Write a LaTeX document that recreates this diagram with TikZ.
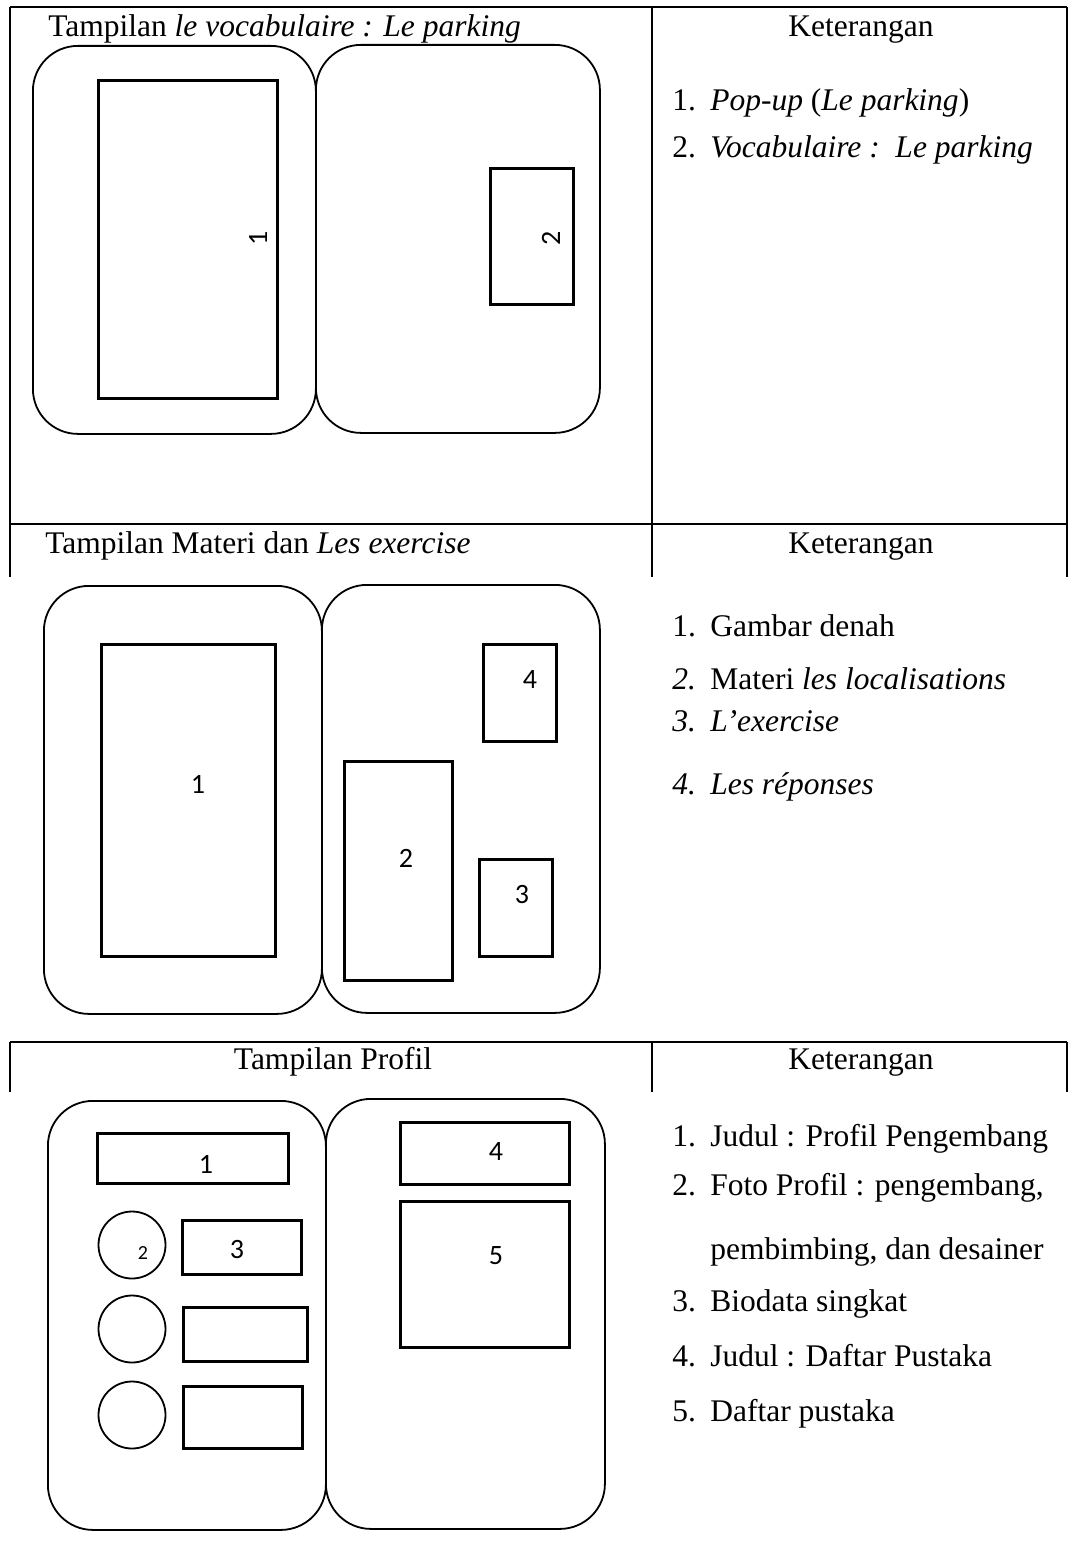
\documentclass[tikz,border=0pt]{standalone}
\usepackage{fontspec}
\setmainfont{Liberation Serif}
\newfontfamily\numfont{Carlito}
\usepackage{tikz}
\usetikzlibrary{positioning}

\newcommand{\itm}[2]{\makebox[38pt][l]{#1}#2}

\begin{document}
\begin{tikzpicture}[x=1pt,y=-1pt,semithick]
\tikzstyle{every node}=[inner sep=0pt]
\tikzstyle{phone}=[draw,line width=1.8pt,rounded corners=45pt,anchor=north west]
\tikzstyle{screen}=[draw,line width=2.8pt,anchor=north west]
\tikzstyle{photo}=[draw,line width=1.8pt,circle,minimum size=67pt]
\tikzstyle{num}=[font=\numfont\fontsize{28}{30}\selectfont]
\tikzstyle{txt}=[font=\fontsize{31.5}{36}\selectfont]
\tikzstyle{item}=[txt,anchor=base west]
\tikzstyle{grid}=[line width=1.2pt]

\useasboundingbox (0,0) rectangle (1074,1546);

% table lines
\coordinate (TL) at (10,7);
\coordinate (TM) at (652,7);
\coordinate (TR) at (1067,7);
\coordinate (ML) at (10,524);
\coordinate (MR) at (1067,524);
\coordinate (EL) at (10,577);
\coordinate (EM) at (652,577);
\coordinate (ER) at (1067,577);
\coordinate (BL) at (10,1042);
\coordinate (BM) at (652,1042);
\coordinate (BR) at (1067,1042);
\coordinate (FL) at (10,1092);
\coordinate (FM) at (652,1092);
\coordinate (FR) at (1067,1092);
\draw[grid] (TL) -- (TR) (ML) -- (MR) (BL) -- (BR);
\draw[grid] (TL) -- (EL) (TM) -- (EM) (TR) -- (ER);
\draw[grid] (BL) -- (FL) (BM) -- (FM) (BR) -- (FR);

% le parking
\node[txt,anchor=base west] (H1) at (48,37) {Tampilan \textit{le vocabulaire : Le parking}};
\node[txt,anchor=base] (K1) at (861,37) {Keterangan};
\node[phone,minimum width=283pt,minimum height=388pt] (P1L) at (32,45) {};
\node[phone,minimum width=284pt,minimum height=388pt] (P1R) at (315,44) {};
\node[screen,minimum width=179pt,minimum height=318pt] (S11) at (97,79) {};
\node[screen,minimum width=83pt,minimum height=136pt] (S12) at (489,167) {};
\node[num,rotate=90] (N11) at (258,238) {1};
\node[num,rotate=90] (N12) at (551,238) {2};
\node[item] (I11) at (672,111) {\itm{1.}{\textit{Pop-up} (\textit{Le parking})}};
\node[item] (I12) at (672,158) {\itm{2.}{\textit{Vocabulaire :\ \ Le parking}}};

% materi
\node[txt,anchor=base west] (H2) at (45,553) {Tampilan Materi dan \textit{Les exercise}};
\node[txt,anchor=base] (K2) at (861,553) {Keterangan};
\node[phone,minimum width=278pt,minimum height=428pt] (P2L) at (43,585) {};
\node[phone,minimum width=278pt,minimum height=428pt] (P2R) at (321,584) {};
\node[screen,minimum width=174pt,minimum height=312pt] (S21) at (100,643) {};
\node[screen,minimum width=108pt,minimum height=219pt] (S22) at (343,760) {};
\node[screen,minimum width=73pt,minimum height=97pt] (S23) at (478,858) {};
\node[screen,minimum width=73pt,minimum height=97pt] (S24) at (482,643) {};
\node[num] (N21) at (198,784) {1};
\node[num] (N22) at (406,858) {2};
\node[num] (N23) at (522,895) {3};
\node[num] (N24) at (530,680) {4};
\node[item] (I21) at (672,636) {\itm{1.}{Gambar denah}};
\node[item] (I22) at (672,689) {\itm{\textit{2.}}{Materi \textit{les localisations}}};
\node[item] (I23) at (672,731) {\itm{\textit{3.}}{\textit{L’exercise}}};
\node[item] (I24) at (672,794) {\itm{\textit{4.}}{\textit{Les réponses}}};

% profil
\node[txt,anchor=base] (H3) at (333,1069) {Tampilan Profil};
\node[txt,anchor=base] (K3) at (861,1069) {Keterangan};
\node[phone,minimum width=278pt,minimum height=429pt] (P3L) at (47,1100) {};
\node[phone,minimum width=279pt,minimum height=430pt] (P3R) at (325,1098) {};
\node[screen,minimum width=191pt,minimum height=50pt] (S31) at (96,1132) {};
\node[photo] (C1) at (132,1245) {};
\node[photo] (C2) at (132,1329) {};
\node[photo] (C3) at (132,1415) {};
\node[screen,minimum width=119pt,minimum height=54pt] (S33) at (181,1219) {};
\node[screen,minimum width=124pt,minimum height=54pt] (S3B) at (182,1306) {};
\node[screen,minimum width=119pt,minimum height=62pt] (S3C) at (182,1385) {};
\node[screen,minimum width=169pt,minimum height=62pt] (S34) at (399,1121) {};
\node[screen,minimum width=169pt,minimum height=146pt] (S35) at (399,1200) {};
\node[num] (N31) at (206,1164) {1};
\node[num,font=\numfont\fontsize{20}{22}\selectfont] (N32) at (143,1253) {2};
\node[num] (N33) at (237,1249) {3};
\node[num] (N34) at (496,1151) {4};
\node[num] (N35) at (496,1256) {5};
\node[item] (I31) at (672,1146) {\itm{1.}{Judul : Profil Pengembang}};
\node[item] (I32) at (672,1195) {\itm{2.}{Foto Profil : pengembang,}};
\node[item] (I32b) at (710,1259) {pembimbing, dan desainer};
\node[item] (I33) at (672,1311) {\itm{3.}{Biodata singkat}};
\node[item] (I34) at (672,1366) {\itm{4.}{Judul : Daftar Pustaka}};
\node[item] (I35) at (672,1421) {\itm{5.}{Daftar pustaka}};
\end{tikzpicture}
\end{document}
